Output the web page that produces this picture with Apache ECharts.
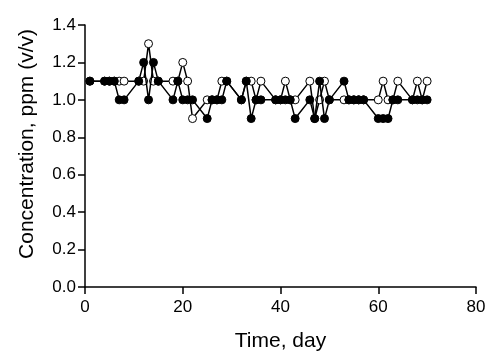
<!DOCTYPE html>
<html>
<head>
<meta charset="utf-8">
<script src="https://cdn.jsdelivr.net/npm/echarts@6/dist/echarts.min.js"></script>
<style>
  html, body { margin: 0; padding: 0; background: #fff; }
  #chart { width: 500px; height: 363px; }
</style>
</head>
<body>
<div id="chart"></div>
<script>
// 采样日（工作日）
const days = [1, 4, 5, 6, 7, 8, 11, 12, 13, 14, 15, 18, 19, 20, 21, 22,
  25, 26, 27, 28, 29, 32, 33, 34, 35, 36, 39, 40, 41, 42, 43,
  46, 47, 48, 49, 50, 53, 54, 55, 56, 57, 60, 61, 62, 63, 64, 67, 68, 69, 70];

// 实心点序列
const filledVals = [1.1, 1.1, 1.1, 1.1, 1.0, 1.0, 1.1, 1.2, 1.0, 1.2, 1.1, 1.0, 1.1, 1.0, 1.0, 1.0,
  0.9, 1.0, 1.0, 1.0, 1.1, 1.0, 1.1, 0.9, 1.0, 1.0, 1.0, 1.0, 1.0, 1.0, 0.9,
  1.0, 0.9, 1.1, 0.9, 1.0, 1.1, 1.0, 1.0, 1.0, 1.0, 0.9, 0.9, 0.9, 1.0, 1.0, 1.0, 1.0, 1.0, 1.0];

// 空心点序列
const openVals = [1.1, 1.1, 1.1, 1.1, 1.1, 1.1, 1.1, 1.1, 1.3, 1.1, 1.1, 1.1, 1.1, 1.2, 1.1, 0.9,
  1.0, 1.0, 1.0, 1.1, 1.1, 1.0, 1.1, 1.1, 1.0, 1.1, 1.0, 1.0, 1.1, 1.0, 1.0,
  1.1, 0.9, 1.0, 1.1, 1.0, 1.0, 1.0, 1.0, 1.0, 1.0, 1.0, 1.1, 1.0, 1.0, 1.1, 1.0, 1.1, 1.0, 1.1];

const chart = echarts.init(document.getElementById('chart'));
const font = 'Liberation Sans, Arial, sans-serif';

const axisCommon = {
  axisLine: { show: true, lineStyle: { color: '#000', width: 1.5 } },
  axisTick: { show: true, inside: false, length: 7, lineStyle: { color: '#000', width: 1.5 } },
  splitLine: { show: false }
};

chart.setOption({
  animation: false,
  backgroundColor: '#fff',
  grid: { left: 85, right: 24, top: 25, bottom: 76, containLabel: false },
  xAxis: Object.assign({}, axisCommon, {
    type: 'value', min: 0, max: 80, interval: 20,
    name: 'Time, day', nameLocation: 'middle', nameGap: 44,
    nameTextStyle: { color: '#000', fontSize: 21, fontFamily: font },
    axisLabel: { color: '#000', fontSize: 17, fontFamily: font, margin: 12 }
  }),
  yAxis: Object.assign({}, axisCommon, {
    type: 'value', min: 0, max: 1.4, interval: 0.2,
    name: 'Concentration, ppm (v/v)', nameLocation: 'middle', nameGap: 47,
    nameTextStyle: { color: '#000', fontSize: 21, fontFamily: font, padding: [0, 0, 0, 24] },
    axisLabel: { color: '#000', fontSize: 17, fontFamily: font, margin: 9,
      formatter: v => v.toFixed(1) }
  }),
  series: [
    {
      type: 'line',
      data: days.map((d, i) => [d, openVals[i]]),
      symbol: 'circle', symbolSize: 8,
      lineStyle: { color: '#000', width: 1.5 },
      itemStyle: { color: '#fff', borderColor: '#000', borderWidth: 1 },
      z: 2
    },
    {
      type: 'line',
      data: days.map((d, i) => [d, filledVals[i]]),
      symbol: 'circle', symbolSize: 8,
      lineStyle: { color: '#000', width: 1.5 },
      itemStyle: { color: '#000', borderColor: '#000', borderWidth: 1 },
      z: 3
    }
  ]
});
</script>
</body>
</html>
